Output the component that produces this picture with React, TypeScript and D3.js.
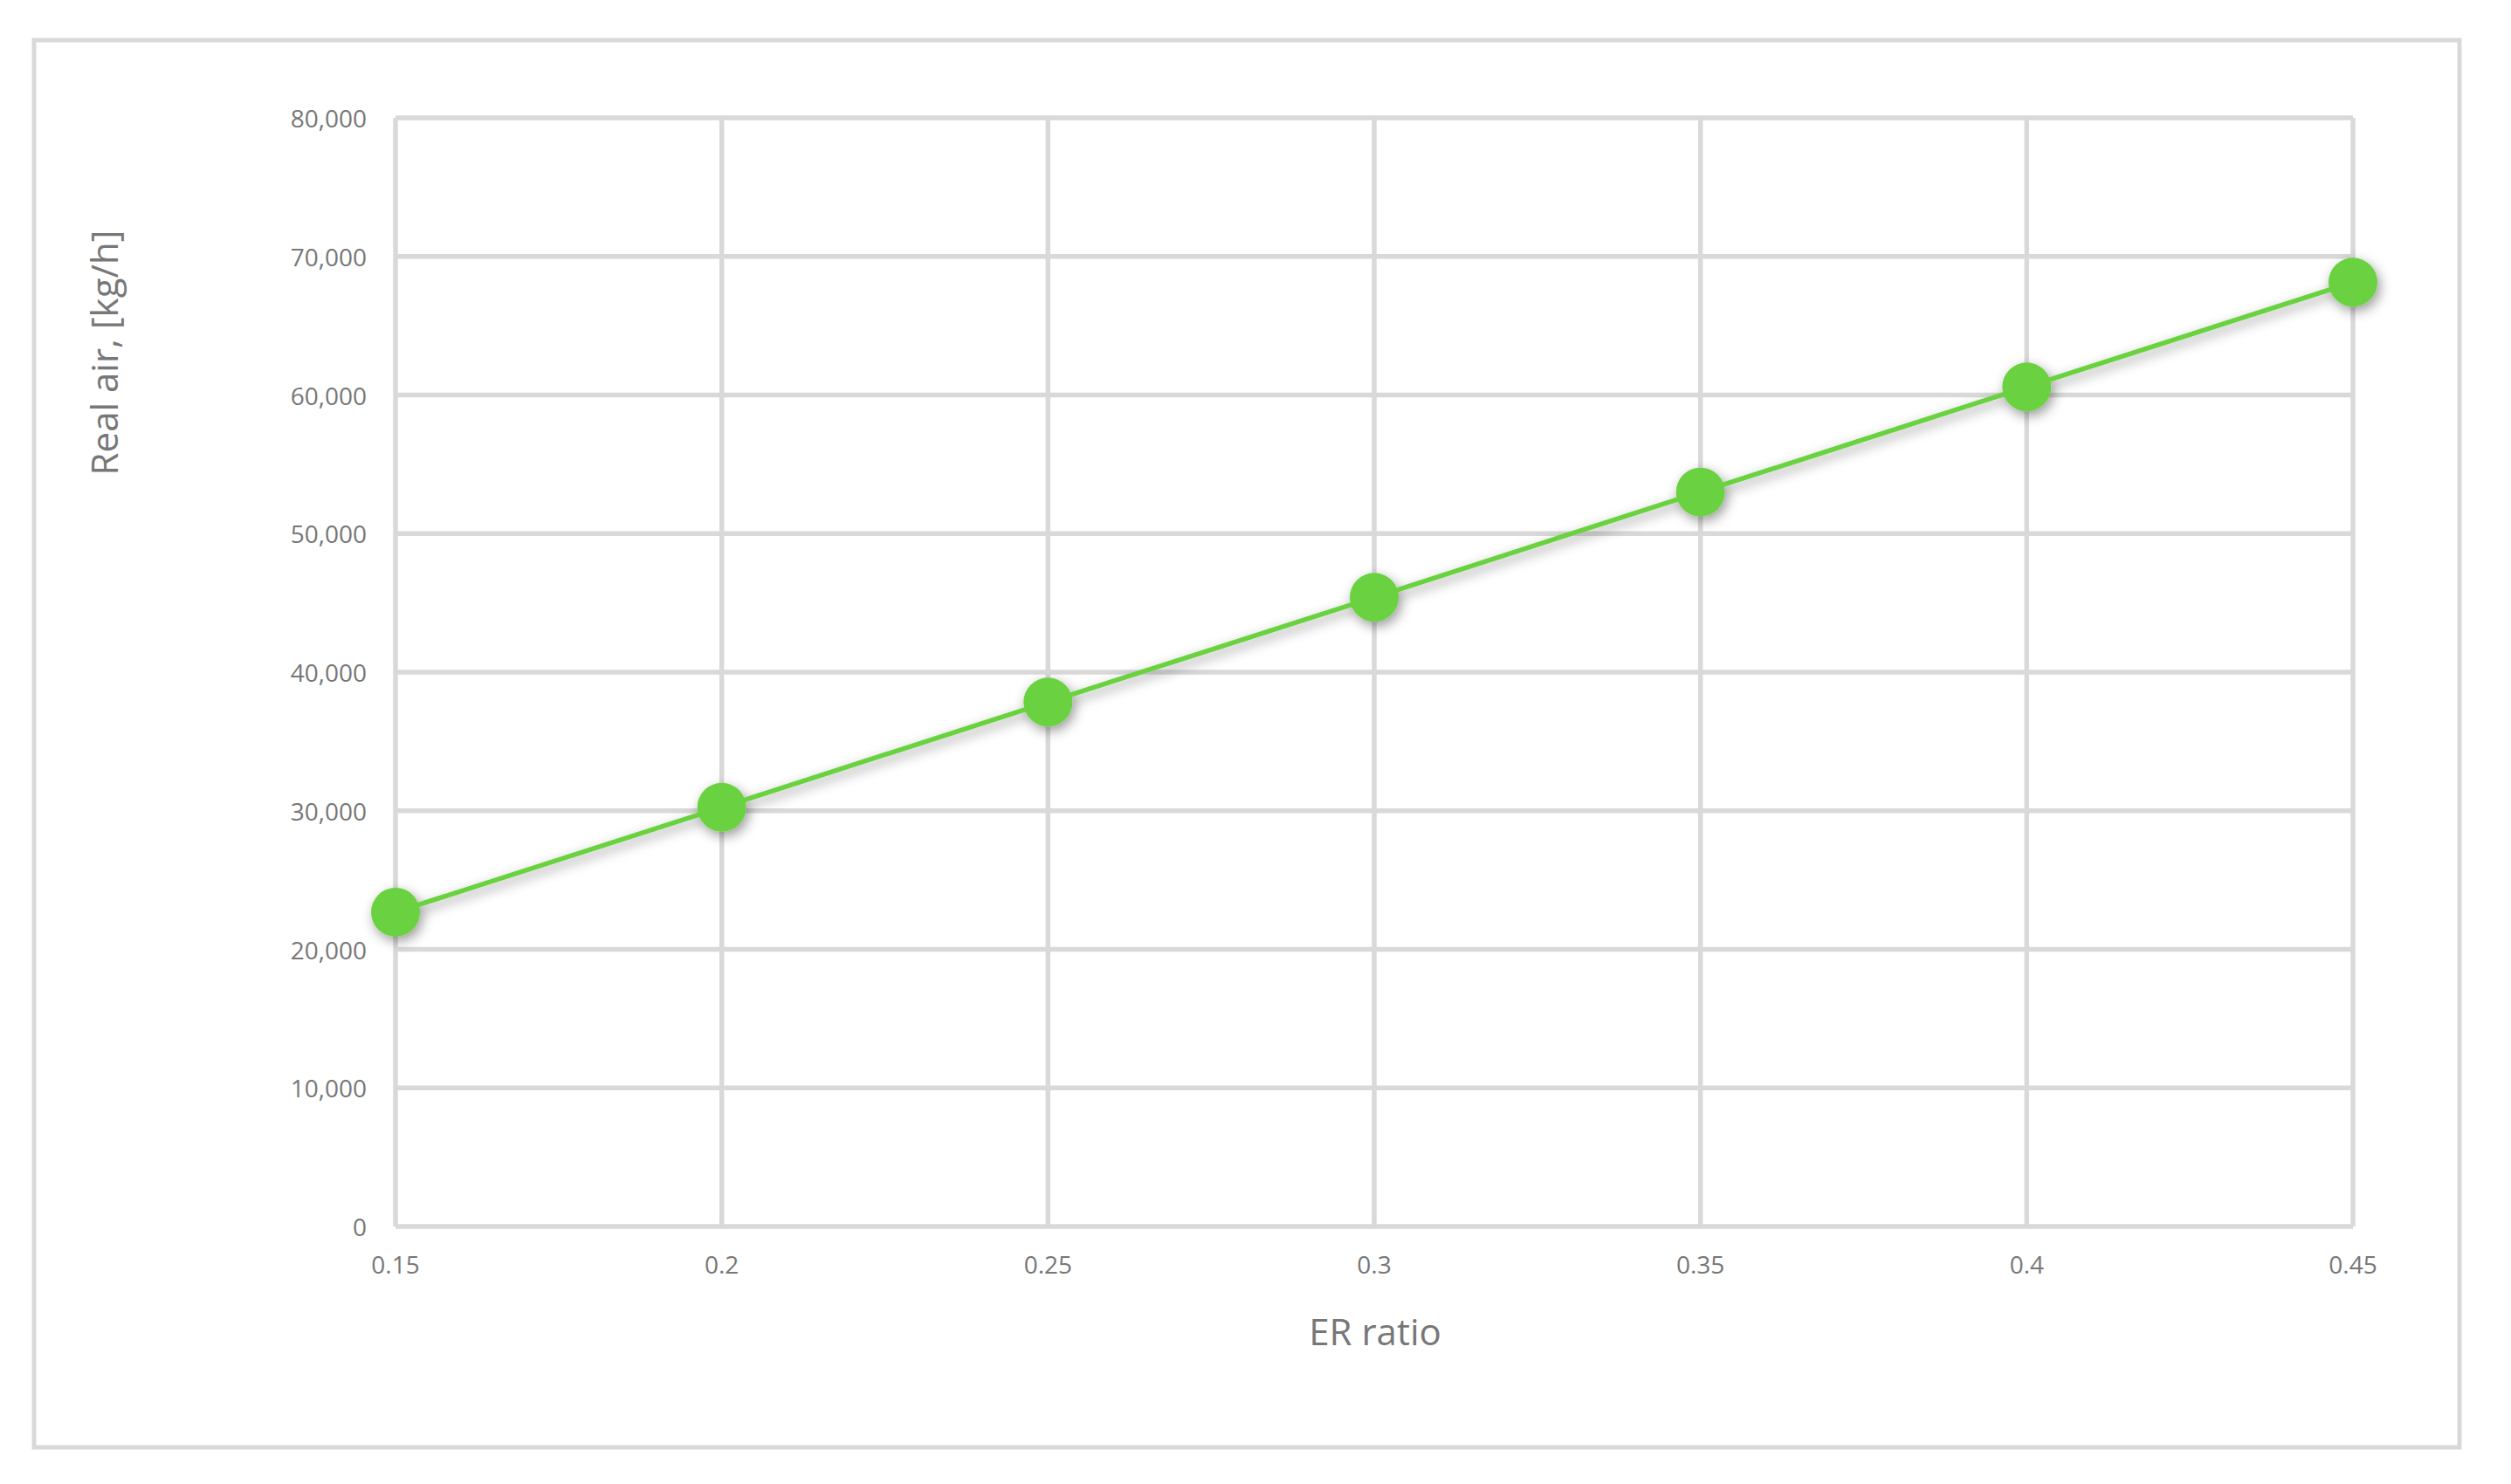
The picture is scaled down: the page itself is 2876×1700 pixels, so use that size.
import React, { useEffect, useRef } from "react";
import * as d3 from "d3";

const erRatio = [0.15, 0.2, 0.25, 0.3, 0.35, 0.4, 0.45];
const realAir = [22680, 30250, 37840, 45400, 53000, 60580, 68140];
const xTicks = [0.15, 0.2, 0.25, 0.3, 0.35, 0.4, 0.45];
const yTicks = [0, 10000, 20000, 30000, 40000, 50000, 60000, 70000, 80000];

const W = 2876;
const H = 1700;
const FONT = "'Segoe UI', 'Open Sans', 'Noto Sans', sans-serif";

function App() {
  const ref = useRef<SVGSVGElement | null>(null);

  useEffect(() => {
    const svg = d3.select(ref.current);
    svg.selectAll("*").remove();

    const left = 453, right = 2695, top = 135, bottom = 1405;
    const xscale = d3.scaleLinear().domain([0.15, 0.45]).range([left, right]);
    const yscale = d3.scaleLinear().domain([0, 80000]).range([bottom, top]);

    const defs = svg.append("defs");
    const f = defs.append("filter").attr("id", "shadow")
      .attr("x", "-50%").attr("y", "-50%").attr("width", "200%").attr("height", "200%");
    f.append("feDropShadow").attr("dx", 3).attr("dy", 5).attr("stdDeviation", 7)
      .attr("flood-color", "#000").attr("flood-opacity", 0.4);

    svg.append("rect").attr("x", 0).attr("y", 0).attr("width", W).attr("height", H).attr("fill", "#fff");

    // outer chart frame
    svg.append("rect").attr("x", 39).attr("y", 46).attr("width", 2817 - 39).attr("height", 1658 - 46)
      .attr("fill", "none").attr("stroke", "#d9d9d9").attr("stroke-width", 5);

    // grid
    const grid = svg.append("g").attr("stroke", "#d9d9d9").attr("stroke-width", 5.5);
    grid.selectAll("line.h").data(yTicks).join("line").attr("class", "h")
      .attr("x1", left).attr("x2", right).attr("y1", d => yscale(d)).attr("y2", d => yscale(d));
    grid.selectAll("line.v").data(xTicks).join("line").attr("class", "v")
      .attr("x1", d => xscale(d)).attr("x2", d => xscale(d)).attr("y1", top).attr("y2", bottom);

    // tick labels
    const fmt = d3.format(",");
    svg.append("g").selectAll("text").data(yTicks).join("text")
      .attr("x", left - 33).attr("y", d => yscale(d)).attr("text-anchor", "end")
      .attr("dominant-baseline", "central").attr("font-family", FONT).attr("font-size", 28)
      .attr("fill", "#777").text(d => fmt(d));
    svg.append("g").selectAll("text").data(xTicks).join("text")
      .attr("x", d => xscale(d)).attr("y", 1448).attr("text-anchor", "middle")
      .attr("dominant-baseline", "central").attr("font-family", FONT).attr("font-size", 28)
      .attr("fill", "#777").text(d => String(d));

    // titles
    svg.append("text").attr("x", 1575).attr("y", 1524).attr("text-anchor", "middle")
      .attr("dominant-baseline", "central").attr("font-family", FONT).attr("font-size", 42)
      .attr("fill", "#777").text("ER ratio");
    svg.append("text").attr("transform", "translate(118,404) rotate(-90)").attr("text-anchor", "middle")
      .attr("dominant-baseline", "central").attr("font-family", FONT).attr("font-size", 42)
      .attr("fill", "#777").text("Real air, [kg/h]");

    const pts = erRatio.map((e, i) => [e, realAir[i]] as [number, number]);
    const line = d3.line<[number, number]>().x(d => xscale(d[0])).y(d => yscale(d[1]));

    const series = svg.append("g").attr("filter", "url(#shadow)");
    series.append("path").datum(pts).attr("d", line).attr("fill", "none")
      .attr("stroke", "#6bd13f").attr("stroke-width", 5.5);
    series.selectAll("circle").data(pts).join("circle")
      .attr("cx", d => xscale(d[0])).attr("cy", d => yscale(d[1])).attr("r", 28)
      .attr("fill", "#6bd13f");
  }, []);

  return (
    <svg ref={ref} width={W} height={H} style={{ position: "absolute", left: 0, top: 0 }} />
  );
}

export default App;
